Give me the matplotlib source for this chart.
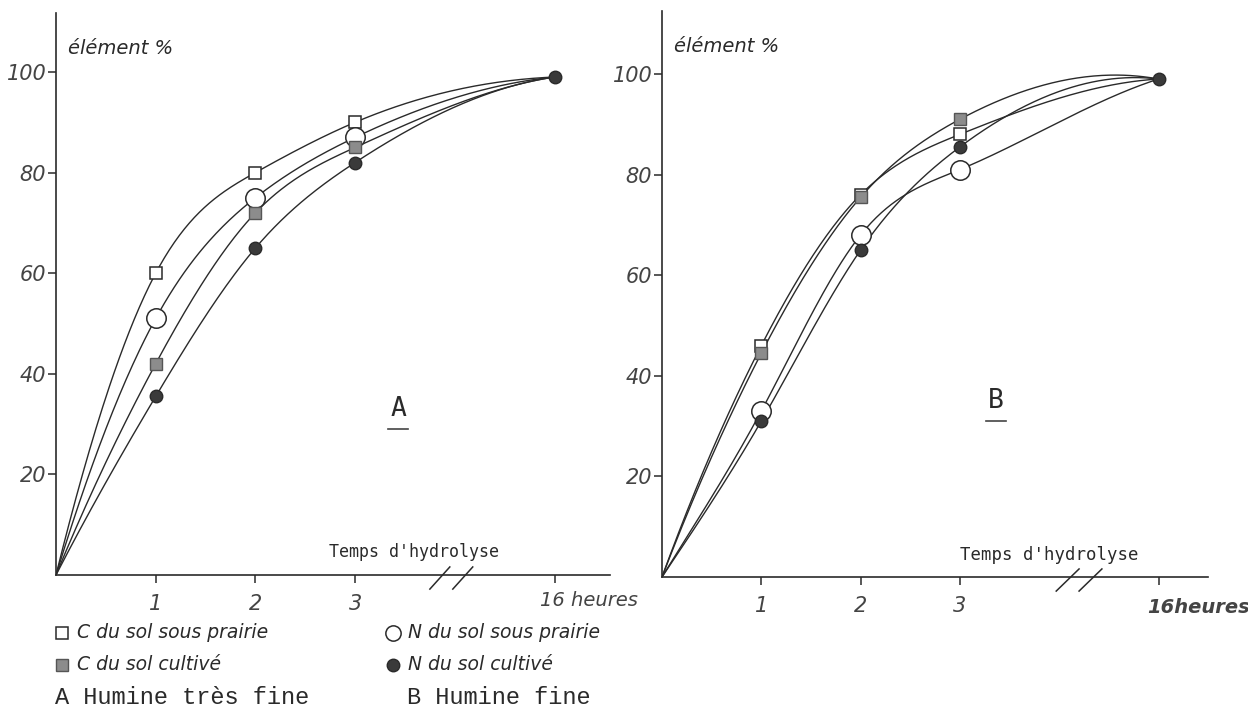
import numpy as np
import matplotlib.pyplot as plt
from matplotlib.lines import Line2D

# temps d'hydrolyse (h); 16 h est reporté deux graduations après 3 h (axe coupé)
heures = [0, 1, 2, 3, 16]
positions = [0, 1, 2, 3, 5]
ticks_x = ['1', '2', '3']

# A : humine très fine (% de l'élément hydrolysé)
a_c_prairie = [0, 60, 80, 90, 99]
a_n_prairie = [0, 51, 75, 87, 99]
a_c_cultive = [0, 42, 72, 85, 99]
a_n_cultive = [0, 35.5, 65, 82, 99]

# B : humine fine
b_c_prairie = [0, 46, 76, 88, 99]
b_n_prairie = [0, 33, 68, 81, 99]
b_c_cultive = [0, 44.5, 75.5, 91, 99]
b_n_cultive = [0, 31, 65, 85.5, 99]

ticks_y = [20, 40, 60, 80, 100]

ENCRE = '#2a2a2a'
GRIS = '#444444'

styles = {
    'c_prairie': dict(marker='s', ms=9, mfc='white', mec=ENCRE, mew=1.1),
    'c_cultive': dict(marker='s', ms=8, mfc='#8c8c8c', mec='#555555', mew=1.0),
    'n_prairie': dict(marker='o', ms=14, mfc='white', mec=ENCRE, mew=1.1),
    'n_cultive': dict(marker='o', ms=9, mfc='#3a3a3a', mec=ENCRE, mew=1.0),
}


def pente_bord(x, y):
    # pente de la parabole passant par trois points, prise au premier point
    f01 = (y[1] - y[0]) / (x[1] - x[0])
    f12 = (y[2] - y[1]) / (x[2] - x[1])
    f012 = (f12 - f01) / (x[2] - x[0])
    return f01 + f012 * (x[0] - x[1])


def spline(x, y, n=300):
    # spline cubique à pentes imposées aux extrémités
    x = np.asarray(x, float)
    y = np.asarray(y, float)
    k = len(x)
    h = np.diff(x)
    s0 = pente_bord(x[:3], y[:3])
    s1 = pente_bord(x[::-1][:3], y[::-1][:3])
    A = np.zeros((k, k))
    r = np.zeros(k)
    A[0, 0:2] = [2 * h[0], h[0]]
    r[0] = 6 * ((y[1] - y[0]) / h[0] - s0)
    A[-1, -2:] = [h[-1], 2 * h[-1]]
    r[-1] = 6 * (s1 - (y[-1] - y[-2]) / h[-1])
    for i in range(1, k - 1):
        A[i, i - 1] = h[i - 1]
        A[i, i] = 2 * (h[i - 1] + h[i])
        A[i, i + 1] = h[i]
        r[i] = 6 * ((y[i + 1] - y[i]) / h[i] - (y[i] - y[i - 1]) / h[i - 1])
    m = np.linalg.solve(A, r)
    xs = np.linspace(x[0], x[-1], n)
    j = np.clip(np.searchsorted(x, xs) - 1, 0, k - 2)
    hh = x[j + 1] - x[j]
    t0 = x[j + 1] - xs
    t1 = xs - x[j]
    ys = (m[j] * t0**3 + m[j + 1] * t1**3) / (6 * hh) \
        + (y[j] / hh - m[j] * hh / 6) * t0 + (y[j + 1] / hh - m[j + 1] * hh / 6) * t1
    return xs, ys


def panneau(ax, series, lettre, lettre_xy, coupure, temps_xy, temps_fs, seize, xmax, ymax):
    for cle, vals in series:
        xs, ys = spline(positions, vals)
        ax.plot(xs, ys, color=ENCRE, lw=1.0, zorder=2)
        every = [1, 2, 3, 4] if cle == 'n_cultive' else [1, 2, 3]
        ax.plot(positions, vals, ls='none', markevery=every, zorder=3, **styles[cle])

    ax.set_xlim(0, xmax)
    ax.set_ylim(0, ymax)
    for s in ('top', 'right'):
        ax.spines[s].set_visible(False)
    for s in ('left', 'bottom'):
        ax.spines[s].set_linewidth(1.2)
        ax.spines[s].set_color(ENCRE)

    ax.set_yticks(ticks_y)
    ax.set_yticklabels([str(v) for v in ticks_y], fontsize=15, style='oblique', color=GRIS)
    ax.set_xticks([1, 2, 3, 5])
    ax.set_xticklabels(ticks_x + [''], fontsize=15, style='oblique', color=GRIS)
    ax.tick_params(axis='y', length=6, width=1.1, pad=1, color=ENCRE)
    ax.tick_params(axis='x', length=6, width=1.1, pad=8, color=ENCRE)

    ax.text(0.12, ymax - 7, 'élément %', fontsize=14, style='oblique', color=ENCRE, va='center')
    ax.text(*temps_xy, "Temps d'hydrolyse", family='DejaVu Sans Mono',
            fontsize=temps_fs, color=ENCRE, va='center')
    sx, sy, stxt, sw = seize
    ax.text(sx, sy, stxt, fontsize=14, style='oblique', weight=sw, color=GRIS,
            ha='left', va='center')

    # lettre du panneau, soulignée
    lx, ly = lettre_xy
    ax.text(lx, ly, lettre, family='DejaVu Sans Mono', fontsize=19, color=ENCRE,
            ha='center', va='center')
    ax.plot([lx - 0.1, lx + 0.1], [ly - 4, ly - 4], color=GRIS, lw=1.2)

    # coupure de l'axe des temps
    for dx in (0, 0.23):
        ax.plot([coupure[0] + dx, coupure[1] + dx], [-2.8, 1.6], color=ENCRE, lw=1.1,
                clip_on=False)


fig = plt.figure(figsize=(12.48, 7.13), dpi=100)

ax_a = fig.add_axes([56 / 1248, 1 - 575 / 713, 554 / 1248, 562 / 713])
panneau(ax_a,
        [('c_prairie', a_c_prairie), ('n_prairie', a_n_prairie),
         ('c_cultive', a_c_cultive), ('n_cultive', a_n_cultive)],
        'A', (3.43, 33), (3.75, 3.95), (2.74, 4.6), 12,
        (4.85, -5.0, '16 heures', 'normal'),
        554 / 99.7, 562 / 5.03)

ax_b = fig.add_axes([662 / 1248, 1 - 577 / 713, 546 / 1248, 566 / 713])
panneau(ax_b,
        [('c_prairie', b_c_prairie), ('n_prairie', b_n_prairie),
         ('c_cultive', b_c_cultive), ('n_cultive', b_n_cultive)],
        'B', (3.36, 35), (3.97, 4.2), (3.0, 4.4), 12.5,
        (4.89, -6.0, '16heures', 'bold'),
        546 / 99.3, 566 / 5.03)

# légende sous les graphiques
legende = [
    ('c_prairie', 'C du sol sous prairie', 62, 633),
    ('c_cultive', 'C du sol cultivé', 62, 665),
    ('n_prairie', 'N du sol sous prairie', 393, 633),
    ('n_cultive', 'N du sol cultivé', 393, 665),
]
for cle, texte, px, py in legende:
    st = dict(styles[cle])
    if cle == 'n_prairie':
        st['ms'] = 11
    fig.add_artist(Line2D([px / 1248], [1 - py / 713], transform=fig.transFigure, **st))
    fig.text((px + 15) / 1248, 1 - py / 713, texte, fontsize=13.5, style='oblique',
             color=ENCRE, va='center')

fig.text(55 / 1248, 1 - 697 / 713, 'A Humine très fine', family='Liberation Mono',
         fontsize=17, color=ENCRE, va='center')
fig.text(407 / 1248, 1 - 697 / 713, 'B Humine fine', family='Liberation Mono',
         fontsize=17, color=ENCRE, va='center')

fig.savefig('out.png', dpi=100)
